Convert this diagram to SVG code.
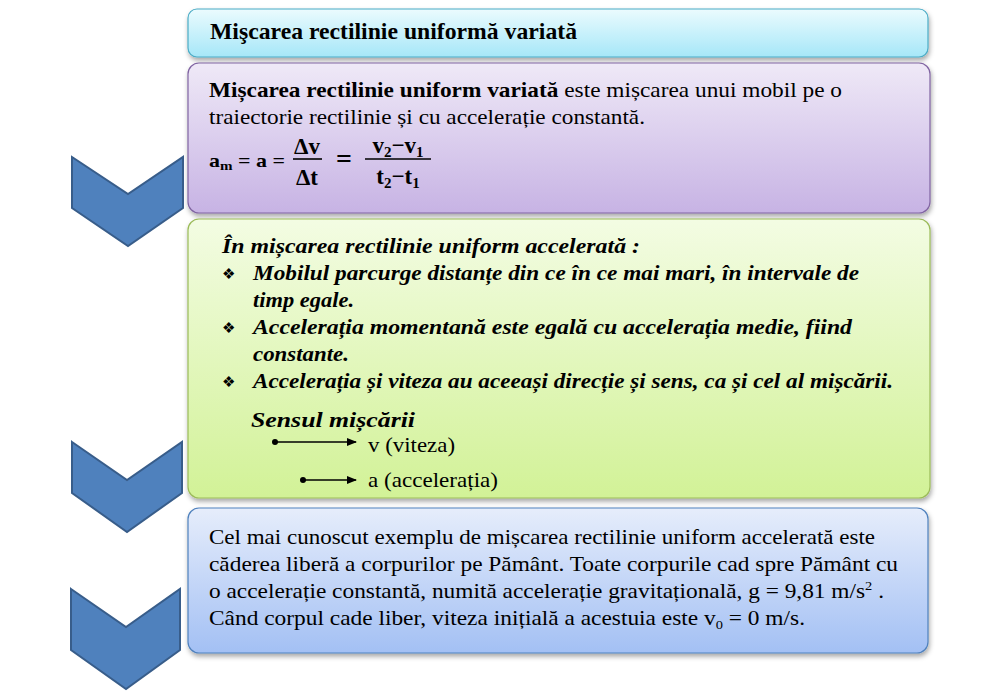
<svg xmlns="http://www.w3.org/2000/svg" width="1000" height="694" viewBox="0 0 1000 694">
<style>
text{font-family:'Liberation Serif','Times New Roman',serif;fill:#000}
.b{font-weight:bold}
.i{font-style:italic}
.bul{font-family:'DejaVu Sans','Noto Sans',sans-serif;font-style:normal;font-weight:normal}
.chev{fill:#4f81bd;stroke:#385d8a;stroke-width:2}
.conn{stroke:#000;stroke-width:1.3;fill:none}
</style>
<defs>
<filter id="sh" x="-5%" y="-10%" width="110%" height="125%">
<feDropShadow dx="1" dy="3" stdDeviation="2.5" flood-color="#000" flood-opacity="0.35"/>
</filter>
<linearGradient id="gCyan" x1="0" y1="0" x2="0" y2="1">
<stop offset="0" stop-color="#ebfbfe"/><stop offset="1" stop-color="#a6e7f8"/>
</linearGradient>
<linearGradient id="gPurple" x1="0" y1="0" x2="0" y2="1">
<stop offset="0" stop-color="#efe9f7"/><stop offset="1" stop-color="#c7b3e4"/>
</linearGradient>
<linearGradient id="gGreen" x1="0" y1="0" x2="0" y2="1">
<stop offset="0" stop-color="#f3fce3"/><stop offset="1" stop-color="#d2f297"/>
</linearGradient>
<linearGradient id="gBlue" x1="0" y1="0" x2="0" y2="1">
<stop offset="0" stop-color="#e6edfb"/><stop offset="1" stop-color="#a3c0f4"/>
</linearGradient>
<marker id="arr" markerWidth="10" markerHeight="8" refX="9" refY="4" orient="auto" markerUnits="userSpaceOnUse">
<path d="M0,0 L10,4 L0,8 Z" fill="#000"/>
</marker>
<marker id="dot" markerWidth="8" markerHeight="8" refX="4" refY="4" markerUnits="userSpaceOnUse">
<circle cx="4" cy="4" r="3" fill="#000"/>
</marker>
</defs>

<g id="chevron1"><polygon class="chev" points="72,157 128,194 183,157 183,208 128,246 72,208"/></g>
<g id="chevron2"><polygon class="chev" points="72,442 127,480 182,442 182,493 127,532 72,493"/></g>
<g id="chevron3"><polygon class="chev" points="71,589 126,627 180,589 180,650 126,689 71,650"/></g>

<g id="title">
<rect x="188" y="9" width="740" height="48" rx="9" fill="url(#gCyan)" stroke="#4bacc6" stroke-width="1.2" filter="url(#sh)"/>
<text class="b" x="210" y="39" font-size="23" textLength="367" lengthAdjust="spacingAndGlyphs">Mişcarea rectilinie uniformă  variată</text>
</g>

<g id="definition">
<rect x="188" y="63" width="742" height="150" rx="11" fill="url(#gPurple)" stroke="#8064a2" stroke-width="1.2" filter="url(#sh)"/>
<text x="209" y="97" font-size="21.5" textLength="633" lengthAdjust="spacingAndGlyphs"><tspan class="b">Mișcarea rectilinie uniform variată</tspan> este mișcarea unui mobil pe o</text>
<text x="209" y="124" font-size="21.5" textLength="436" lengthAdjust="spacingAndGlyphs">traiectorie rectilinie și cu accelerație constantă.</text>
<text class="b" x="209" y="167" font-size="19" textLength="76" lengthAdjust="spacingAndGlyphs">a<tspan font-size="13" dy="3">m</tspan><tspan dy="-3"> = a =</tspan></text>
<text class="b" x="307" y="154" font-size="23" text-anchor="middle">Δv</text>
<line x1="293" y1="159" x2="322" y2="159" stroke="#000" stroke-width="1.6"/>
<text class="b" x="307" y="185" font-size="23" text-anchor="middle">Δt</text>
<text class="b" x="344" y="168" font-size="28" text-anchor="middle">=</text>
<text class="b" x="398" y="153" font-size="23" text-anchor="middle">v<tspan font-size="15" dy="4">2</tspan><tspan dy="-4">−v</tspan><tspan font-size="15" dy="4">1</tspan></text>
<line x1="365" y1="159" x2="431" y2="159" stroke="#000" stroke-width="1.6"/>
<text class="b" x="398" y="184" font-size="23" text-anchor="middle">t<tspan font-size="15" dy="4">2</tspan><tspan dy="-4">−t</tspan><tspan font-size="15" dy="4">1</tspan></text>
</g>

<g id="properties">
<rect x="188" y="219" width="742" height="279" rx="11" fill="url(#gGreen)" stroke="#9bbb59" stroke-width="1.2" filter="url(#sh)"/>
<g font-size="22" font-weight="bold" font-style="italic">
<text x="222" y="253" textLength="418" lengthAdjust="spacingAndGlyphs">În mișcarea rectilinie uniform accelerată :</text>
<text class="bul" x="222" y="279" font-size="15">❖</text>
<text x="253" y="280" textLength="606" lengthAdjust="spacingAndGlyphs">Mobilul parcurge distanțe din ce în ce mai mari, în intervale de</text>
<text x="253" y="307" textLength="101" lengthAdjust="spacingAndGlyphs">timp egale.</text>
<text class="bul" x="222" y="333" font-size="15">❖</text>
<text x="253" y="334" textLength="599" lengthAdjust="spacingAndGlyphs">Accelerația momentană  este egală cu accelerația  medie, fiind</text>
<text x="253" y="361" textLength="96" lengthAdjust="spacingAndGlyphs">constante.</text>
<text class="bul" x="222" y="387" font-size="15">❖</text>
<text x="253" y="388" textLength="640" lengthAdjust="spacingAndGlyphs">Accelerația și viteza au aceeași direcție și sens, ca și cel al mișcării.</text>
</g>
<text class="b i" x="251" y="427" font-size="20" textLength="164" lengthAdjust="spacingAndGlyphs">Sensul mișcării</text>
<text x="368" y="452" font-size="21" textLength="87" lengthAdjust="spacingAndGlyphs">v (viteza)</text>
<text x="368" y="487" font-size="21" textLength="130" lengthAdjust="spacingAndGlyphs">a (accelerația)</text>
</g>

<g id="connectors">
<line class="conn" x1="275" y1="442" x2="356" y2="442" marker-start="url(#dot)" marker-end="url(#arr)"/>
<line class="conn" x1="303" y1="480" x2="356" y2="480" marker-start="url(#dot)" marker-end="url(#arr)"/>
</g>

<g id="example">
<rect x="188" y="508" width="740" height="145" rx="11" fill="url(#gBlue)" stroke="#4f81bd" stroke-width="1.2" filter="url(#sh)"/>
<g font-size="21">
<text x="209" y="544" textLength="666" lengthAdjust="spacingAndGlyphs">Cel mai cunoscut exemplu de mișcarea rectilinie uniform accelerată este</text>
<text x="209" y="571" textLength="689" lengthAdjust="spacingAndGlyphs">căderea liberă a corpurilor pe Pământ. Toate corpurile cad spre Pământ cu</text>
<text x="209" y="598" textLength="675" lengthAdjust="spacingAndGlyphs">o accelerație constantă, numită accelerație gravitațională, g = 9,81 m/s<tspan font-size="13" dy="-8">2</tspan><tspan dy="8"> .</tspan></text>
<text x="209" y="625" textLength="596" lengthAdjust="spacingAndGlyphs">Când corpul cade liber, viteza inițială a acestuia este v<tspan font-size="13" dy="4">0</tspan><tspan dy="-4"> = 0 m/s.</tspan></text>
</g>
</g>
</svg>
